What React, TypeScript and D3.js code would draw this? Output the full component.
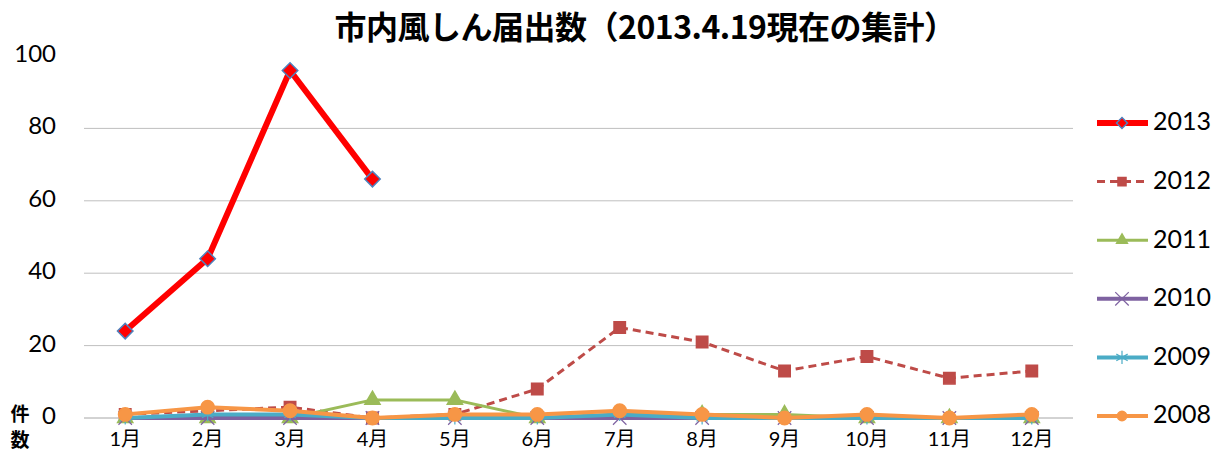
import React from "react";
import * as d3 from "d3";

const months = ["1月", "2月", "3月", "4月", "5月", "6月", "7月", "8月", "9月", "10月", "11月", "12月"];
const yTicks = [0, 20, 40, 60, 80, 100];

const y2013 = [24, 44, 96, 66];
const y2012 = [1, 2, 3, 0, 1, 8, 25, 21, 13, 17, 11, 13];
const y2011 = [0, 0, 0, 5, 5, 0, 1, 1, 1, 0, 0, 0];
const y2010 = [0, 0, 0, 0, 0, 0, 0, 0, 0, 0, 0, 0];
const y2009 = [0, 1, 1, 0, 0, 0, 1, 0, 0, 0, 0, 0];
const y2008 = [1, 3, 2, 0, 1, 1, 2, 1, 0, 1, 0, 1];

const seriesNames = ["2013", "2012", "2011", "2010", "2009", "2008"];
const seriesValues = [y2013, y2012, y2011, y2010, y2009, y2008];

const W = 1225;
const H = 468;
const FONT = "Lato, 'Noto Sans CJK JP', sans-serif";

type Style = {
  color: string;
  width: number;
  dash?: string;
  symbol: d3.SymbolType;
  size: number;
  fill: string;
  stroke: string;
  rotate?: number;
};

const styles: Style[] = [
  { color: "#FF0000", width: 6, symbol: d3.symbolSquare, size: 120, fill: "#FF0000", stroke: "#4F81BD", rotate: 45 },
  { color: "#BE4B48", width: 3, dash: "8,5", symbol: d3.symbolSquare, size: 130, fill: "#BE4B48", stroke: "#BE4B48" },
  { color: "#9BBB59", width: 3, symbol: d3.symbolTriangle, size: 100, fill: "#9BBB59", stroke: "#9BBB59" },
  { color: "#7E62A1", width: 4, symbol: d3.symbolTimes, size: 120, fill: "none", stroke: "#7E62A1" },
  { color: "#4BACC6", width: 4, symbol: d3.symbolAsterisk, size: 120, fill: "none", stroke: "#4BACC6" },
  { color: "#F79646", width: 4, symbol: d3.symbolCircle, size: 140, fill: "#F79646", stroke: "#F79646" },
];

export default function App() {
  const x = d3.scaleBand().domain(months).range([84, 1073]);
  const cx = (i: number) => (x(months[i]) ?? 0) + x.bandwidth() / 2;
  const y = d3.scaleLinear().domain([0, 100]).range([418, 56]);

  const line = d3
    .line<number>()
    .x((_, i) => cx(i))
    .y(d => y(d));

  const marker = (s: Style, px: number, py: number, key: string, scale = 1) => (
    <path
      key={key}
      d={d3.symbol(s.symbol, s.size * scale)() ?? ""}
      transform={`translate(${px},${py}) rotate(${s.rotate ?? 0})`}
      fill={s.fill}
      stroke={s.stroke}
      strokeWidth={s.fill === "none" ? 1.2 : 1.5}
    />
  );

  return (
    <svg width={W} height={H} style={{ position: "absolute", left: 0, top: 0, background: "#fff" }}>
      <text
        x={645}
        y={30}
        textAnchor="middle"
        dominantBaseline="middle"
        fontFamily="'Noto Sans CJK JP', sans-serif"
        fontWeight={700}
        fontSize={32}
        letterSpacing={-0.5}
        fill="#000"
      >
        市内風しん届出数（2013.4.19現在の集計）
      </text>

      {/* グリッド線 */}
      {yTicks.filter(t => t > 0 && t < 100).map(t => (
        <line key={t} x1={84} x2={1073} y1={y(t)} y2={y(t)} stroke="#BFBFBF" strokeWidth={1} />
      ))}
      <line x1={84} x2={1073} y1={y(0)} y2={y(0)} stroke="#A6A6A6" strokeWidth={1} />

      {yTicks.map(t => (
        <text key={t} x={56} y={y(t)} textAnchor="end" dominantBaseline="middle" fontFamily={FONT} fontSize={24} fill="#000">
          {t}
        </text>
      ))}
      {months.map((m, i) => (
        <text key={m} x={cx(i)} y={441} textAnchor="middle" dominantBaseline="middle" fontFamily={FONT} fontSize={20} fill="#000">
          {m}
        </text>
      ))}
      <text x={20} y={416} textAnchor="middle" dominantBaseline="middle" fontFamily="'Noto Sans CJK JP', sans-serif" fontWeight={700} fontSize={19}>件</text>
      <text x={20} y={442} textAnchor="middle" dominantBaseline="middle" fontFamily="'Noto Sans CJK JP', sans-serif" fontWeight={700} fontSize={19}>数</text>

      {/* 系列 */}
      {seriesValues.map((vals, si) => {
        const s = styles[si];
        return (
          <g key={seriesNames[si]}>
            <path d={line(vals) ?? ""} fill="none" stroke={s.color} strokeWidth={s.width} strokeDasharray={s.dash} strokeLinejoin="round" />
            {vals.map((v, i) => marker(s, cx(i), y(v), `${si}-${i}`))}
          </g>
        );
      })}

      {/* 凡例 */}
      {seriesNames.map((name, si) => {
        const s = styles[si];
        const ly = 123 + si * 58.6;
        return (
          <g key={name}>
            <line x1={1097} x2={1148} y1={ly} y2={ly} stroke={s.color} strokeWidth={s.width} strokeDasharray={s.dash} />
            {marker(s, 1122, ly, `l${si}`, s.fill === "none" ? 1 : 0.5)}
            <text x={1153} y={ly + 1} dominantBaseline="middle" fontFamily={FONT} fontSize={25} fill="#000">
              {name}
            </text>
          </g>
        );
      })}
    </svg>
  );
}
